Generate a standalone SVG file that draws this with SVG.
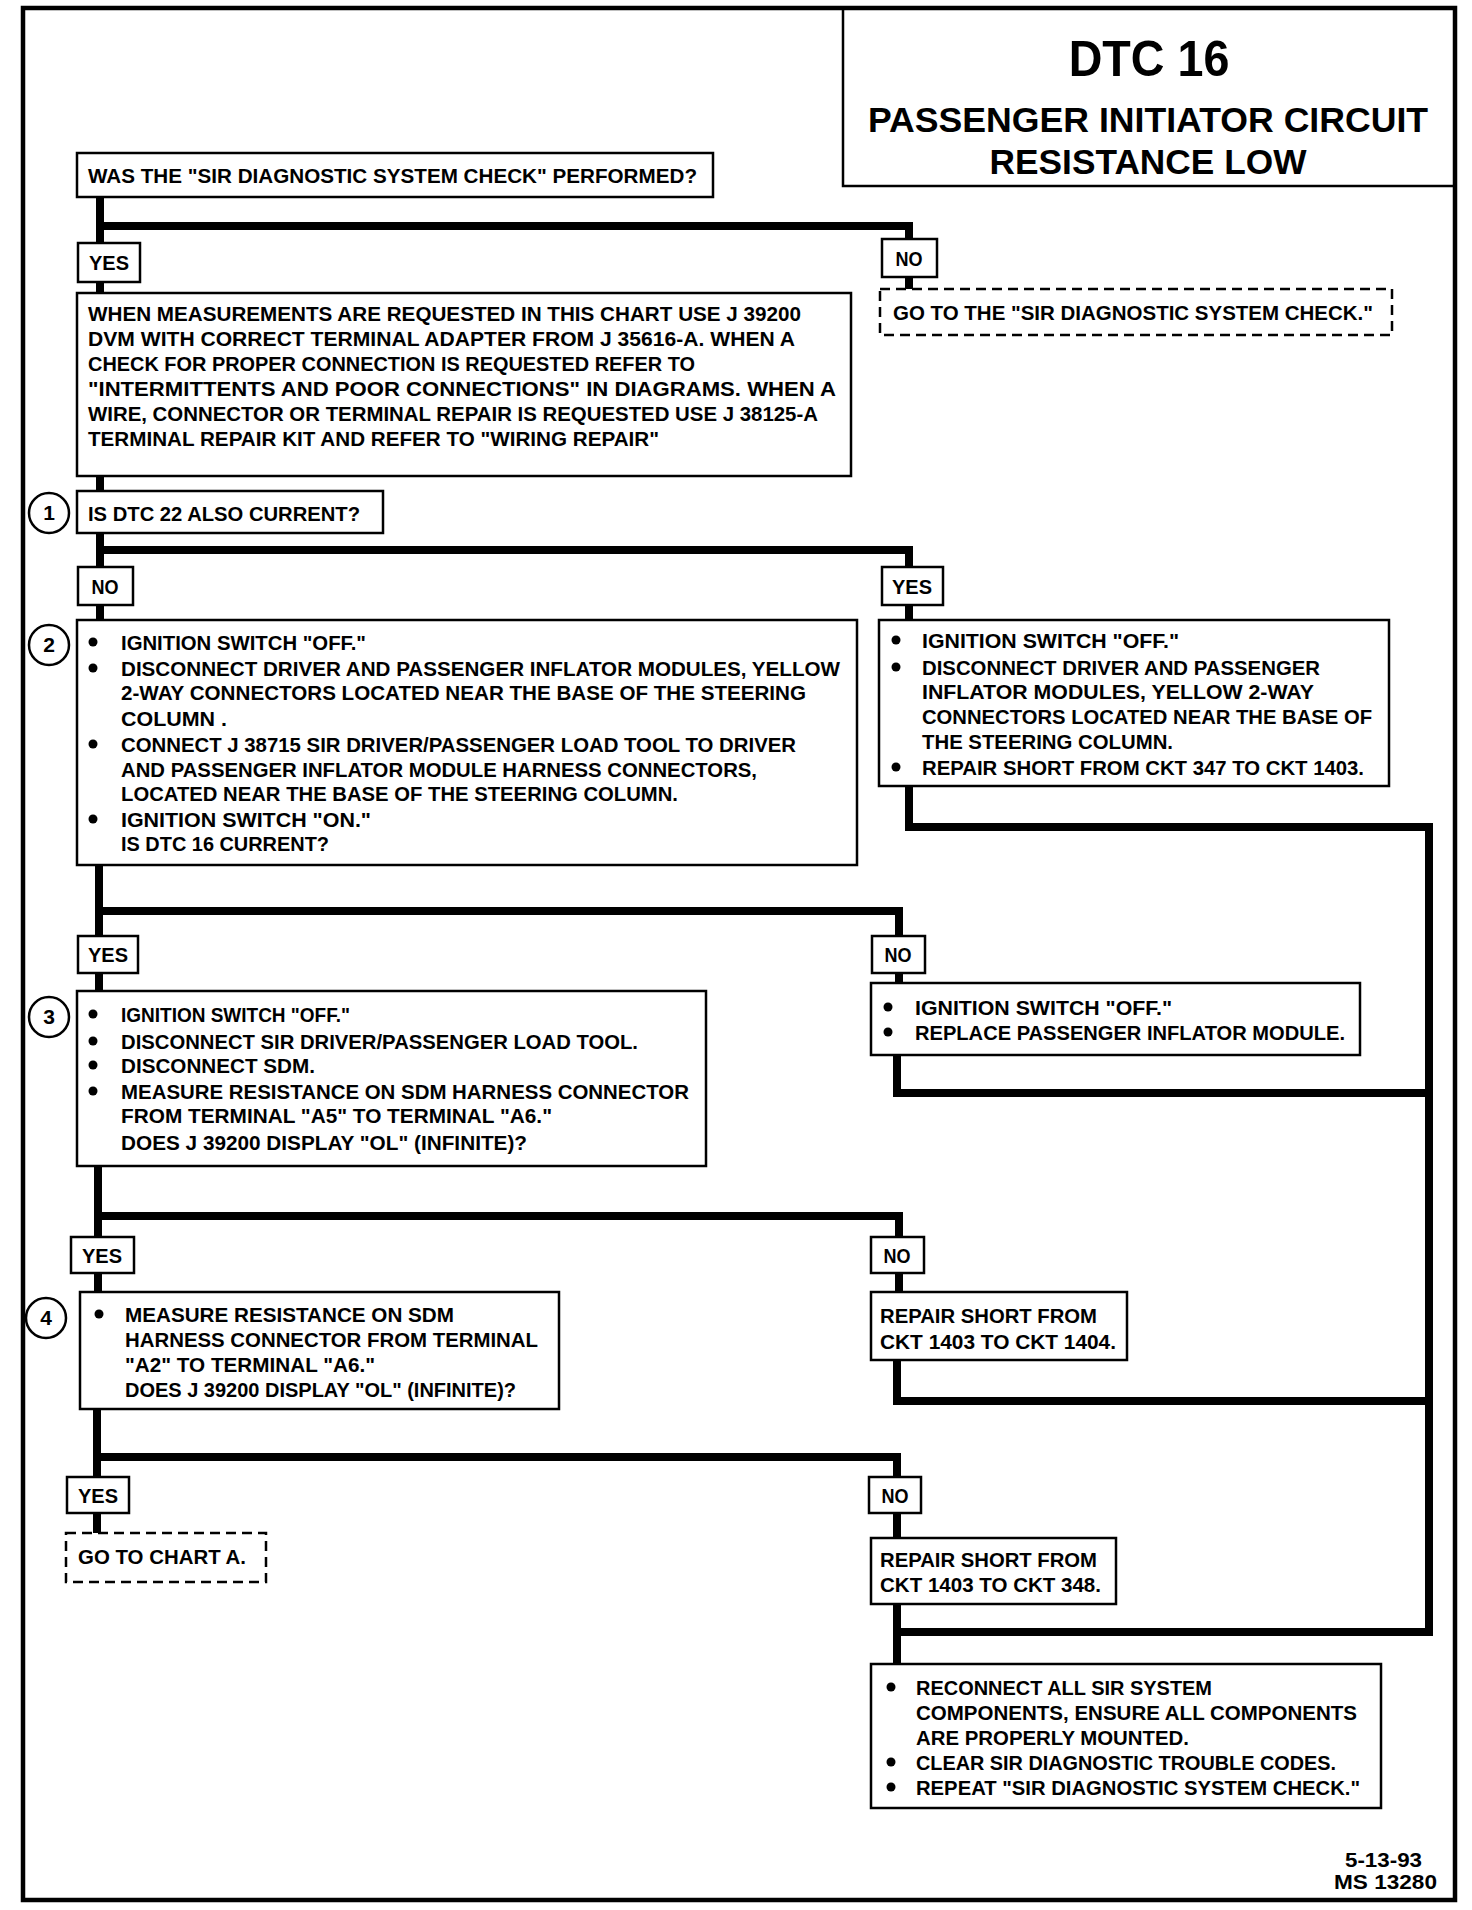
<svg xmlns="http://www.w3.org/2000/svg" width="1472" height="1910" viewBox="0 0 1472 1910">
<style>
.bx{fill:#fff;stroke:#000;stroke-width:2.5}
.ds{fill:#fff;stroke:#000;stroke-width:2.5;stroke-dasharray:10 6}
.cn{fill:none;stroke:#000;stroke-width:8;stroke-linecap:square;stroke-linejoin:miter}
.ci{fill:#fff;stroke:#000;stroke-width:2.5}
text{font-family:"Liberation Sans",Arial,sans-serif;font-weight:bold;font-size:21px;fill:#000}
.lb{text-anchor:middle}
.num{text-anchor:middle;font-size:21px}
.tt{text-anchor:middle}
.dot{fill:#000}
</style>
<rect width="1472" height="1910" fill="#fff"/>
<rect x="23" y="8" width="1432" height="1892" fill="none" stroke="#000" stroke-width="4.5"/>

<g id="title">
<rect x="843" y="8" width="612" height="178" fill="none" stroke="#000" stroke-width="2.5"/>
<text class="tt" transform="translate(1149,76) scale(0.85,1)" style="font-size:50px" x="0" y="0" textLength="189" lengthAdjust="spacingAndGlyphs">DTC 16</text>
<text class="tt" transform="translate(1148,132) scale(0.845,1)" style="font-size:36px" x="0" y="0" textLength="663" lengthAdjust="spacingAndGlyphs">PASSENGER INITIATOR CIRCUIT</text>
<text class="tt" transform="translate(1148,174) scale(0.845,1)" style="font-size:36px" x="0" y="0" textLength="375" lengthAdjust="spacingAndGlyphs">RESISTANCE LOW</text>
</g>

<g id="connectors">
<path class="cn" d="M100,197 V293"/>
<path class="cn" d="M100,226 H909 V289"/>
<path class="cn" d="M100,476 V491"/>
<path class="cn" d="M100,533 V620"/>
<path class="cn" d="M100,550 H909 V620"/>
<path class="cn" d="M99,865 V991"/>
<path class="cn" d="M99,911 H899 V983"/>
<path class="cn" d="M909,786 V827 H1429 V1632"/>
<path class="cn" d="M897,1055 V1093 H1429"/>
<path class="cn" d="M98,1166 V1292"/>
<path class="cn" d="M98,1216 H899 V1292"/>
<path class="cn" d="M97,1409 V1533"/>
<path class="cn" d="M97,1457 H897 V1538"/>
<path class="cn" d="M897,1360 V1401 H1429"/>
<path class="cn" d="M897,1604 V1664"/>
<path class="cn" d="M897,1632 H1429"/>
</g>

<g id="q0">
<rect class="bx" x="77" y="153" width="636" height="44"/>
<text x="88" y="183" textLength="609" lengthAdjust="spacingAndGlyphs">WAS THE "SIR DIAGNOSTIC SYSTEM CHECK" PERFORMED?</text>
</g>

<g id="yes0">
<rect class="bx" x="78" y="243" width="62" height="39"/>
<text class="lb" x="109" y="270" textLength="40" lengthAdjust="spacingAndGlyphs">YES</text>
</g>
<g id="no0">
<rect class="bx" x="882" y="239" width="55" height="38"/>
<text class="lb" x="909" y="266" textLength="27" lengthAdjust="spacingAndGlyphs">NO</text>
</g>
<g id="goto-check">
<rect class="ds" x="880" y="289" width="512" height="46"/>
<text x="893" y="320" textLength="480" lengthAdjust="spacingAndGlyphs">GO TO THE "SIR DIAGNOSTIC SYSTEM CHECK."</text>
</g>

<g id="info">
<rect class="bx" x="77" y="293" width="774" height="183"/>
<text x="88" y="321" textLength="713" lengthAdjust="spacingAndGlyphs">WHEN MEASUREMENTS ARE REQUESTED IN THIS CHART USE J 39200</text>
<text x="88" y="346" textLength="707" lengthAdjust="spacingAndGlyphs">DVM WITH CORRECT TERMINAL ADAPTER FROM J 35616-A.  WHEN A</text>
<text x="88" y="371" textLength="607" lengthAdjust="spacingAndGlyphs">CHECK FOR PROPER CONNECTION IS REQUESTED REFER TO</text>
<text x="88" y="396" textLength="748" lengthAdjust="spacingAndGlyphs">"INTERMITTENTS AND POOR CONNECTIONS" IN  DIAGRAMS.  WHEN A</text>
<text x="88" y="421" textLength="730" lengthAdjust="spacingAndGlyphs">WIRE, CONNECTOR OR TERMINAL REPAIR IS REQUESTED USE J 38125-A</text>
<text x="88" y="446" textLength="571" lengthAdjust="spacingAndGlyphs">TERMINAL REPAIR KIT AND REFER TO "WIRING REPAIR"</text>
</g>

<g id="step1">
<circle class="ci" cx="49" cy="513" r="20"/>
<text class="num" x="49" y="520">1</text>
<rect class="bx" x="77" y="491" width="306" height="42"/>
<text x="88" y="521" textLength="272" lengthAdjust="spacingAndGlyphs">IS DTC 22 ALSO CURRENT?</text>
</g>

<g id="no1">
<rect class="bx" x="78" y="567" width="55" height="38"/>
<text class="lb" x="105" y="594" textLength="27" lengthAdjust="spacingAndGlyphs">NO</text>
</g>
<g id="yes1">
<rect class="bx" x="882" y="567" width="61" height="38"/>
<text class="lb" x="912" y="594" textLength="40" lengthAdjust="spacingAndGlyphs">YES</text>
</g>

<g id="step2">
<circle class="ci" cx="49" cy="645" r="20"/>
<text class="num" x="49" y="652">2</text>
<rect class="bx" x="77" y="620" width="780" height="245"/>
<circle class="dot" cx="93" cy="642" r="4.5"/>
<circle class="dot" cx="93" cy="668" r="4.5"/>
<circle class="dot" cx="93" cy="744" r="4.5"/>
<circle class="dot" cx="93" cy="819" r="4.5"/>
<text x="121" y="650" textLength="245" lengthAdjust="spacingAndGlyphs">IGNITION SWITCH "OFF."</text>
<text x="121" y="676" textLength="719" lengthAdjust="spacingAndGlyphs">DISCONNECT DRIVER AND PASSENGER INFLATOR MODULES, YELLOW</text>
<text x="121" y="700" textLength="685" lengthAdjust="spacingAndGlyphs">2-WAY CONNECTORS LOCATED  NEAR THE BASE OF THE STEERING</text>
<text x="121" y="726" textLength="106" lengthAdjust="spacingAndGlyphs">COLUMN .</text>
<text x="121" y="752" textLength="675" lengthAdjust="spacingAndGlyphs">CONNECT J 38715 SIR DRIVER/PASSENGER LOAD TOOL TO DRIVER</text>
<text x="121" y="777" textLength="636" lengthAdjust="spacingAndGlyphs">AND PASSENGER INFLATOR MODULE HARNESS CONNECTORS,</text>
<text x="121" y="801" textLength="557" lengthAdjust="spacingAndGlyphs">LOCATED NEAR THE BASE OF THE STEERING COLUMN.</text>
<text x="121" y="827" textLength="250" lengthAdjust="spacingAndGlyphs">IGNITION SWITCH "ON."</text>
<text x="121" y="851" textLength="208" lengthAdjust="spacingAndGlyphs">IS DTC 16 CURRENT?</text>
</g>

<g id="yes1-action">
<rect class="bx" x="879" y="620" width="510" height="166"/>
<circle class="dot" cx="896" cy="640" r="4.5"/>
<circle class="dot" cx="896" cy="667" r="4.5"/>
<circle class="dot" cx="896" cy="767" r="4.5"/>
<text x="922" y="648" textLength="257" lengthAdjust="spacingAndGlyphs">IGNITION SWITCH "OFF."</text>
<text x="922" y="675" textLength="398" lengthAdjust="spacingAndGlyphs">DISCONNECT DRIVER AND PASSENGER</text>
<text x="922" y="699" textLength="392" lengthAdjust="spacingAndGlyphs">INFLATOR MODULES, YELLOW 2-WAY</text>
<text x="922" y="724" textLength="450" lengthAdjust="spacingAndGlyphs">CONNECTORS LOCATED NEAR THE BASE OF</text>
<text x="922" y="749" textLength="251" lengthAdjust="spacingAndGlyphs">THE STEERING COLUMN.</text>
<text x="922" y="775" textLength="442" lengthAdjust="spacingAndGlyphs">REPAIR SHORT FROM CKT 347 TO CKT 1403.</text>
</g>

<g id="yes2">
<rect class="bx" x="78" y="936" width="60" height="37"/>
<text class="lb" x="108" y="962" textLength="40" lengthAdjust="spacingAndGlyphs">YES</text>
</g>
<g id="no2">
<rect class="bx" x="872" y="936" width="53" height="37"/>
<text class="lb" x="898" y="962" textLength="27" lengthAdjust="spacingAndGlyphs">NO</text>
</g>

<g id="step3">
<circle class="ci" cx="49" cy="1017" r="20"/>
<text class="num" x="49" y="1024">3</text>
<rect class="bx" x="77" y="991" width="629" height="175"/>
<circle class="dot" cx="93" cy="1014" r="4.5"/>
<circle class="dot" cx="93" cy="1041" r="4.5"/>
<circle class="dot" cx="93" cy="1065" r="4.5"/>
<circle class="dot" cx="93" cy="1091" r="4.5"/>
<text x="121" y="1022" textLength="229" lengthAdjust="spacingAndGlyphs">IGNITION SWITCH "OFF."</text>
<text x="121" y="1049" textLength="517" lengthAdjust="spacingAndGlyphs">DISCONNECT SIR DRIVER/PASSENGER LOAD TOOL.</text>
<text x="121" y="1073" textLength="194" lengthAdjust="spacingAndGlyphs">DISCONNECT SDM.</text>
<text x="121" y="1099" textLength="568" lengthAdjust="spacingAndGlyphs">MEASURE RESISTANCE ON SDM HARNESS CONNECTOR</text>
<text x="121" y="1123" textLength="431" lengthAdjust="spacingAndGlyphs">FROM TERMINAL "A5" TO TERMINAL "A6."</text>
<text x="121" y="1150" textLength="406" lengthAdjust="spacingAndGlyphs">DOES J 39200 DISPLAY "OL" (INFINITE)?</text>
</g>

<g id="no2-action">
<rect class="bx" x="871" y="983" width="489" height="72"/>
<circle class="dot" cx="888" cy="1007" r="4.5"/>
<circle class="dot" cx="888" cy="1032" r="4.5"/>
<text x="915" y="1015" textLength="257" lengthAdjust="spacingAndGlyphs">IGNITION SWITCH "OFF."</text>
<text x="915" y="1040" textLength="430" lengthAdjust="spacingAndGlyphs">REPLACE PASSENGER INFLATOR MODULE.</text>
</g>

<g id="yes3">
<rect class="bx" x="71" y="1237" width="63" height="36"/>
<text class="lb" x="102" y="1263" textLength="40" lengthAdjust="spacingAndGlyphs">YES</text>
</g>
<g id="no3">
<rect class="bx" x="871" y="1237" width="53" height="36"/>
<text class="lb" x="897" y="1263" textLength="27" lengthAdjust="spacingAndGlyphs">NO</text>
</g>

<g id="step4">
<circle class="ci" cx="46" cy="1318" r="20"/>
<text class="num" x="46" y="1325">4</text>
<rect class="bx" x="80" y="1292" width="479" height="117"/>
<circle class="dot" cx="99" cy="1314" r="4.5"/>
<text x="125" y="1322" textLength="329" lengthAdjust="spacingAndGlyphs">MEASURE RESISTANCE ON SDM</text>
<text x="125" y="1347" textLength="413" lengthAdjust="spacingAndGlyphs">HARNESS CONNECTOR FROM TERMINAL</text>
<text x="125" y="1372" textLength="250" lengthAdjust="spacingAndGlyphs">"A2" TO TERMINAL "A6."</text>
<text x="125" y="1397" textLength="391" lengthAdjust="spacingAndGlyphs">DOES J 39200 DISPLAY "OL" (INFINITE)?</text>
</g>

<g id="no3-action">
<rect class="bx" x="871" y="1292" width="256" height="68"/>
<text x="880" y="1323" textLength="217" lengthAdjust="spacingAndGlyphs">REPAIR SHORT FROM</text>
<text x="880" y="1349" textLength="236" lengthAdjust="spacingAndGlyphs">CKT 1403 TO CKT 1404.</text>
</g>

<g id="yes4">
<rect class="bx" x="67" y="1477" width="62" height="36"/>
<text class="lb" x="98" y="1503" textLength="40" lengthAdjust="spacingAndGlyphs">YES</text>
</g>
<g id="goto-chart-a">
<rect class="ds" x="66" y="1533" width="200" height="49"/>
<text x="78" y="1564" textLength="168" lengthAdjust="spacingAndGlyphs">GO TO CHART A.</text>
</g>
<g id="no4">
<rect class="bx" x="869" y="1477" width="52" height="36"/>
<text class="lb" x="895" y="1503" textLength="27" lengthAdjust="spacingAndGlyphs">NO</text>
</g>
<g id="no4-action">
<rect class="bx" x="871" y="1538" width="245" height="66"/>
<text x="880" y="1567" textLength="217" lengthAdjust="spacingAndGlyphs">REPAIR SHORT FROM</text>
<text x="880" y="1592" textLength="221" lengthAdjust="spacingAndGlyphs">CKT 1403 TO CKT 348.</text>
</g>

<g id="final">
<rect class="bx" x="871" y="1664" width="510" height="144"/>
<circle class="dot" cx="891" cy="1687" r="4.5"/>
<circle class="dot" cx="891" cy="1762" r="4.5"/>
<circle class="dot" cx="891" cy="1787" r="4.5"/>
<text x="916" y="1695" textLength="296" lengthAdjust="spacingAndGlyphs">RECONNECT ALL SIR SYSTEM</text>
<text x="916" y="1720" textLength="441" lengthAdjust="spacingAndGlyphs">COMPONENTS, ENSURE ALL COMPONENTS</text>
<text x="916" y="1745" textLength="273" lengthAdjust="spacingAndGlyphs">ARE PROPERLY MOUNTED.</text>
<text x="916" y="1770" textLength="420" lengthAdjust="spacingAndGlyphs">CLEAR SIR DIAGNOSTIC TROUBLE CODES.</text>
<text x="916" y="1795" textLength="444" lengthAdjust="spacingAndGlyphs">REPEAT "SIR DIAGNOSTIC SYSTEM CHECK."</text>
</g>

<g id="footer">
<text x="1345" y="1867" textLength="77" lengthAdjust="spacingAndGlyphs">5-13-93</text>
<text x="1334" y="1889" textLength="103" lengthAdjust="spacingAndGlyphs">MS 13280</text>
</g>
</svg>
